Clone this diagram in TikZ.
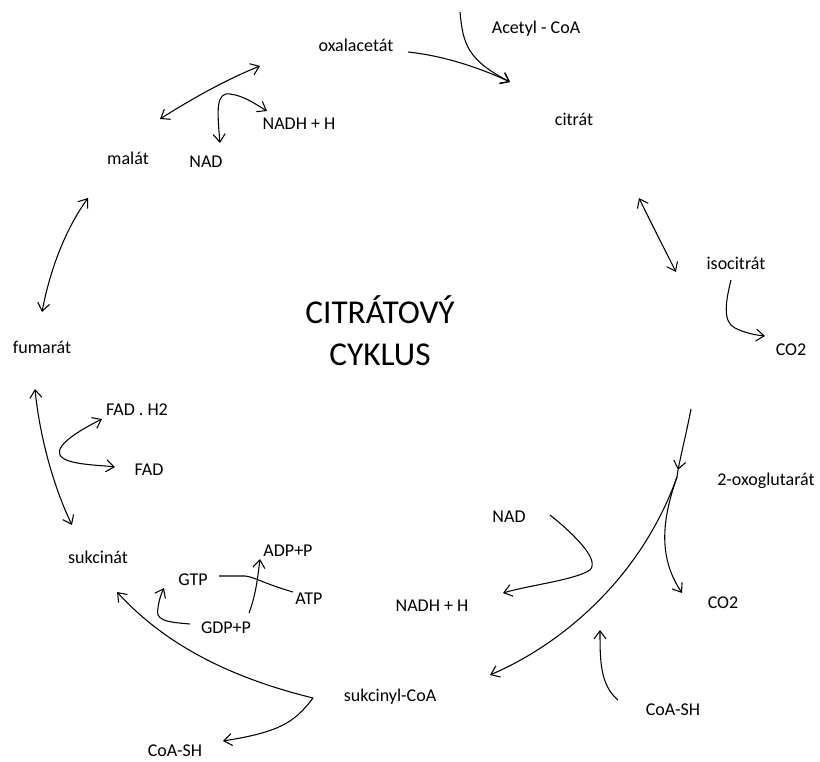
\documentclass[tikz,border=0pt]{standalone}
\usepackage{fontspec}
\setmainfont{Carlito}
\usetikzlibrary{arrows.meta}
\tikzset{every picture/.style={line width=0.75pt}}

\begin{document}
\begin{tikzpicture}[x=0.75pt,y=0.75pt,yscale=-1,xscale=1,
  lbl/.style={inner sep=0.75pt,font=\fontsize{13.5}{16}\selectfont},
  cycletitle/.style={inner sep=0.75pt,align=center,font=\fontsize{25}{31.5}\selectfont},
  rxn/.style={line width=0.8pt,-{Straight Barb[length=6pt,width=9pt]}},
  rev/.style={line width=0.8pt,{Straight Barb[length=6pt,width=9pt]}-{Straight Barb[length=6pt,width=9pt]}},
  link/.style={line width=0.8pt}]
\useasboundingbox (0,0) rectangle (820,762);

% Text Node
\draw (380,331) node [cycletitle] (title) {CITRÁTOVÝ\\CYKLUS};
% Text Node
\draw (536,29) node [lbl] (acetyl) {Acetyl - CoA};
% Text Node
\draw (356,45) node [lbl] (oxal) {oxalacetát};
% Text Node
\draw (574,119) node [lbl] (citrat) {citrát};
% Text Node
\draw (128,158) node [lbl] (malat) {malát};
% Text Node
\draw (206,162) node [lbl] (nadA) {NAD};
% Text Node
\draw (299,124) node [lbl] (nadhA) {NADH + H};
% Text Node
\draw (736,263) node [lbl] (isocit) {isocitrát};
% Text Node
\draw (791,350) node [lbl] (coA) {CO2};
% Text Node
\draw (42,347) node [lbl] (fumarat) {fumarát};
% Text Node
\draw (137,410) node [lbl] (fadh) {FAD . H2};
% Text Node
\draw (149,470) node [lbl] (fad) {FAD};
% Text Node
\draw (766,481) node [lbl] (oxoglu) {2-oxoglutarát};
% Text Node
\draw (509,517) node [lbl] (nadB) {NAD};
% Text Node
\draw (432,606) node [lbl] (nadhB) {NADH + H};
% Text Node
\draw (723,603) node [lbl] (coB) {CO2};
% Text Node
\draw (98,557) node [lbl] (sukcinat) {sukcinát};
% Text Node
\draw (288,551) node [lbl] (adp) {ADP+P};
% Text Node
\draw (193,580) node [lbl] (gtp) {GTP};
% Text Node
\draw (309,599) node [lbl] (atp) {ATP};
% Text Node
\draw (226,628) node [lbl] (gdp) {GDP+P};
% Text Node
\draw (390,697) node [lbl] (sukcoa) {sukcinyl-CoA};
% Text Node
\draw (673,710) node [lbl] (coashA) {CoA-SH};
% Text Node
\draw (175,751) node [lbl] (coashB) {CoA-SH};

% Arrow ends
\coordinate (acIn) at (460,12);
\coordinate (ciIn) at (510,82);
\coordinate (oxOut) at (408,52);
\coordinate (maUp) at (160,119);
\coordinate (oxDn) at (260,66);
\coordinate (nadTip) at (220,143);
\coordinate (nadhTip) at (267,111);
\coordinate (ciDn) at (639,198);
\coordinate (isoUp) at (676,272);
\coordinate (isoOut) at (731,280);
\coordinate (coTipA) at (765,336);
\coordinate (ogIn) at (691,409);
\coordinate (ogMid) at (678,470);
\coordinate (ogFork) at (677,477);
\coordinate (scIn) at (490,675);
\coordinate (coTipB) at (682,593);
\coordinate (nadOut) at (550,515);
\coordinate (nadhTipB) at (503,593);
\coordinate (coashOut) at (618,700);
\coordinate (coashTip) at (600,630);
\coordinate (scFork) at (313,698);
\coordinate (suTip) at (117,592);
\coordinate (coashTipB) at (223,741);
\coordinate (gdpOut) at (190,624);
\coordinate (gtpTip) at (164,588);
\coordinate (gtpOut) at (219,576);
\coordinate (atpIn) at (293,592);
\coordinate (gdpOutB) at (249,613);
\coordinate (adpTip) at (260,559);
\coordinate (fuUp) at (42,312);
\coordinate (maDn) at (88,198);
\coordinate (fuDn) at (35,389);
\coordinate (suUp) at (72,525);
\coordinate (fadhTip) at (102,419);
\coordinate (fadTip) at (115,467);

% Acetyl-CoA + oxalacetat -> citrat
\draw [rxn] (acIn) .. controls (463,45) and (468,60) .. (ciIn);
\draw [rxn] (oxOut) .. controls (445,56) and (480,68) .. (ciIn);
% malat <-> oxalacetat
\draw [rev] (maUp) .. controls (190,100) and (225,80) .. (oxDn);
\draw [rev] (nadTip) .. controls (217,110) and (216,92) .. (230,94) .. controls (245,96) and (255,104) .. (nadhTip);
% citrat <-> isocitrat
\draw [rev] (ciDn) .. controls (652,225) and (664,248) .. (isoUp);
\draw [rxn] (isoOut) .. controls (726,300) and (722,322) .. (735,328) .. controls (745,333) and (755,335) .. (coTipA);
% 2-oxoglutarat -> sukcinyl-CoA
\draw [rxn] (ogIn) .. controls (687,430) and (682,450) .. (ogMid);
\draw [rxn] (ogMid) -- (ogFork) .. controls (640,580) and (560,645) .. (scIn);
\draw [rxn] (ogFork) .. controls (660,525) and (660,560) .. (coTipB);
\draw [rxn] (nadOut) .. controls (575,535) and (600,560) .. (590,570) .. controls (575,580) and (530,585) .. (nadhTipB);
\draw [rxn] (coashOut) .. controls (600,685) and (600,660) .. (coashTip);
% sukcinyl-CoA -> sukcinat
\draw [rxn] (scFork) .. controls (240,680) and (170,650) .. (suTip);
\draw [rxn] (scFork) .. controls (295,722) and (280,732) .. (coashTipB);
\draw [rxn] (gdpOut) .. controls (165,622) and (155,620) .. (158,608) .. controls (159,600) and (161,594) .. (gtpTip);
\draw [link] (gtpOut) -- (245,576) .. controls (255,577) and (262,583) .. (atpIn);
\draw [rxn] (gdpOutB) .. controls (256,595) and (258,575) .. (adpTip);
% fumarat <-> malat, sukcinat <-> fumarat
\draw [rev] (fuUp) .. controls (50,270) and (65,230) .. (maDn);
\draw [rev] (fuDn) .. controls (40,440) and (55,490) .. (suUp);
\draw [rev] (fadhTip) .. controls (80,430) and (55,445) .. (60,455) .. controls (65,465) and (100,465) .. (fadTip);

\end{tikzpicture}
\end{document}
